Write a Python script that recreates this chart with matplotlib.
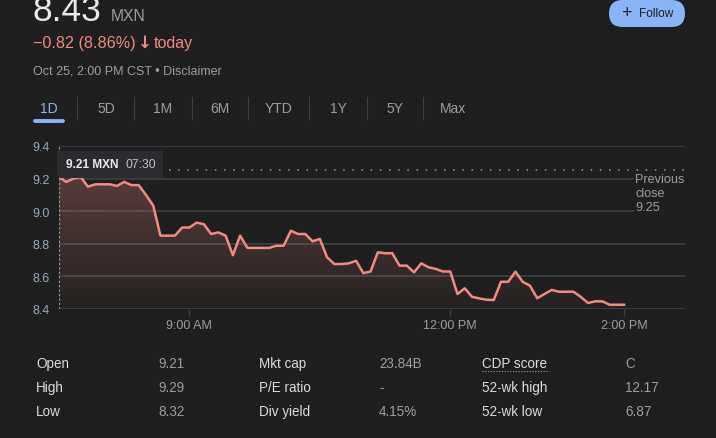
import matplotlib
matplotlib.use("Agg")
import matplotlib.pyplot as plt
from matplotlib.patches import FancyBboxPatch, Rectangle
import numpy as np

W, H = 716, 439
BG = "#1f1f1f"
LINE = "#f28b82"
GRID = "#3c4043"
GRAY = "#9aa0a6"
BLUE = "#8ab4f8"

plt.rcParams['font.family'] = ['Liberation Sans', 'DejaVu Sans']

# precio cada 5 minutos desde las 07:30 hasta las 14:00
precios = [9.21, 9.18, 9.20, 9.21, 9.15, 9.165, 9.165, 9.165, 9.155, 9.18,
           9.16, 9.16, 9.10, 9.035, 8.85, 8.85, 8.85, 8.90, 8.90, 8.93,
           8.92, 8.86, 8.87, 8.85, 8.73, 8.85, 8.775, 8.775, 8.775, 8.775,
           8.788, 8.788, 8.88, 8.86, 8.86, 8.815, 8.83, 8.717, 8.676, 8.676,
           8.68, 8.696, 8.62, 8.63, 8.748, 8.742, 8.742, 8.666, 8.666, 8.625,
           8.68, 8.656, 8.646, 8.63, 8.63, 8.492, 8.527, 8.475, 8.465, 8.457,
           8.455, 8.567, 8.567, 8.629, 8.567, 8.543, 8.466, 8.492, 8.517, 8.506,
           8.506, 8.506, 8.475, 8.437, 8.447, 8.447, 8.426, 8.426, 8.426]
minutos = [5 * i for i in range(len(precios))]   # minutos desde 07:30

cierre_anterior = 9.25
y_ticks = [8.4, 8.6, 8.8, 9.0, 9.2, 9.4]
x_ticks = [90, 270, 390]
x_labels = ["9:00 AM", "12:00 PM", "2:00 PM"]

tabs = ["1D", "5D", "1M", "6M", "YTD", "1Y", "5Y", "Max"]
tabs_x = [49, 106, 163, 220, 279, 338, 395, 453]
sep_x = [77, 134, 192, 248, 309, 367, 423]

tabla_labels = [["Open", "High", "Low"],
                ["Mkt cap", "P/E ratio", "Div yield"],
                ["CDP score", "52-wk high", "52-wk low"]]
tabla_valores = [["9.21", "9.29", "8.32"],
                 ["23.84B", "-", "4.15%"],
                 ["C", "12.17", "6.87"]]


def px(x, y):
    return x / W, 1 - y / H


fig = plt.figure(figsize=(W / 100, H / 100), dpi=100, facecolor=BG)

# ---------------- grafica ----------------
ax = fig.add_axes([59 / W, 129 / H, 626 / W, 163 / H])
ax.set_facecolor(BG)
for s in ax.spines.values():
    s.set_visible(False)

for v in y_ticks:
    ax.axhline(v, color=GRID, lw=1.3, zorder=1)

ax.set_yticks(y_ticks)
ax.set_yticklabels([f"{v:.1f}" for v in y_ticks])
ax.tick_params(axis='y', length=0, pad=7, labelsize=9, labelcolor="#9aabbd")
ax.set_xticks(x_ticks)
ax.set_xticklabels(x_labels)
ax.tick_params(axis='x', length=5, width=1, color=GRID, pad=2.5,
               labelsize=9, labelcolor=GRAY)

# relleno degradado bajo la linea
poly = ax.fill_between(minutos, precios, 8.4, color='none', lw=0)
grad = np.zeros((256, 1, 4))
grad[:, 0, :3] = matplotlib.colors.to_rgb(LINE)
grad[:, 0, 3] = np.linspace(0.28, 0.03, 256)
img = ax.imshow(grad, extent=[0, 390, 8.4, 9.25], aspect='auto',
                origin='upper', zorder=2)
img.set_clip_path(poly.get_paths()[0], transform=ax.transData)
ax.set_xlim(0, 432)
ax.set_ylim(8.4, 9.4)

ax.plot(minutos, precios, color=LINE, lw=1.8, zorder=4, solid_joinstyle='round')

# cierre anterior y cursor
ax.axhline(cierre_anterior, color=GRAY, lw=1.1, ls=(0, (1, 5)), zorder=3)
ax.axvline(0, color=GRAY, lw=0.8, ls=(0, (2, 2)), zorder=3)

fig.text(*px(635, 194), "Previous\nclose\n9.25", color=GRAY, fontsize=9.1,
         va='center', ha='left', linespacing=1.25,
         bbox=dict(facecolor=BG, edgecolor='none', pad=1))

# tooltip
fig.patches.append(Rectangle(px(57, 179), 106 / W, 27 / H, transform=fig.transFigure,
                             facecolor="#2b2c2f", edgecolor='none', zorder=5))
fig.text(*px(66, 165), "9.21 MXN", color="#e8eaed", fontsize=8.6, fontweight='bold',
         va='center', ha='left', zorder=6)
fig.text(*px(126, 165), "07:30", color="#bdc1c6", fontsize=8.7,
         va='center', ha='left', zorder=6)

# ---------------- cabecera ----------------
fig.text(*px(32, 21), "8.43", color="#e8eaed", fontsize=25.5, va='baseline', ha='left')
fig.text(*px(111, 21), "MXN", color=GRAY, fontsize=11.3, va='baseline', ha='left')
fig.text(*px(33, 48), "\u22120.82 (8.86%)", color=LINE, fontsize=11.6,
         va='baseline', ha='left')
fig.text(*px(138, 48), "\u2193", color=LINE, fontsize=12, fontweight='bold',
         va='baseline', ha='left', family=['DejaVu Sans'])
fig.text(*px(154, 48), "today", color=LINE, fontsize=11.6, va='baseline', ha='left')
fig.text(*px(33, 75), "Oct 25, 2:00 PM CST \u2022 Disclaimer", color=GRAY,
         fontsize=9, va='baseline', ha='left')

# boton Follow (en pulgadas, 100 px por pulgada)
fig.patches.append(FancyBboxPatch((6.09, 4.11), 0.76, 0.27,
                                  boxstyle="round,pad=0,rounding_size=0.135",
                                  transform=fig.dpi_scale_trans,
                                  facecolor=BLUE, edgecolor='none'))
fig.text(*px(626, 14), "+", color="#1f1f1f", fontsize=13, va='center', ha='center')
fig.text(*px(639, 14), "Follow", color="#1f1f1f", fontsize=8.6, va='center', ha='left')

# pestañas
for t, x in zip(tabs, tabs_x):
    fig.text(*px(x, 109), t, color=BLUE if t == "1D" else GRAY, fontsize=10,
             va='center', ha='center')
for x in sep_x:
    fig.add_artist(plt.Line2D([x / W, x / W], [1 - 98 / H, 1 - 120 / H],
                              color=GRID, lw=0.8, transform=fig.transFigure))
fig.add_artist(plt.Line2D([35 / W, 63 / W], [1 - 122 / H, 1 - 122 / H],
                          color=BLUE, lw=2.8, solid_capstyle='round',
                          transform=fig.transFigure))

# ---------------- tabla ----------------
col_lab = [36, 259, 482]
col_val = [158, 379, 625]
filas_y = [364, 388, 412]
for c in range(3):
    for r in range(3):
        fig.text(*px(col_lab[c], filas_y[r]), tabla_labels[c][r], color="#dadce0",
                 fontsize=9.75, va='center', ha='left')
        fig.text(*px(col_val[c], filas_y[r]), tabla_valores[c][r], color=GRAY,
                 fontsize=9.75, va='center', ha='left')
fig.add_artist(plt.Line2D([482 / W, 549 / W], [1 - 372 / H, 1 - 372 / H],
                          color=GRAY, lw=0.8, ls=(0, (1, 1.5)),
                          transform=fig.transFigure))

fig.savefig("out.png", dpi=100, facecolor=BG)
